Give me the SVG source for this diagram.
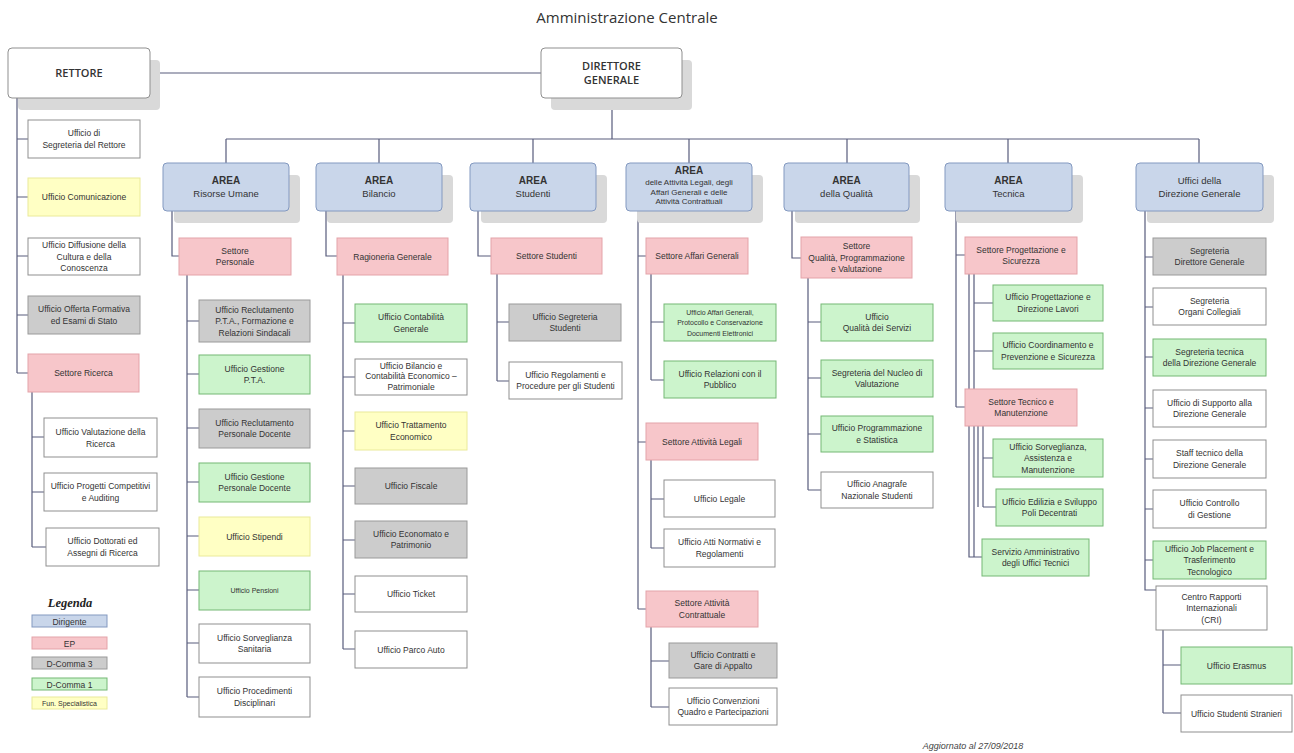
<svg xmlns="http://www.w3.org/2000/svg" width="1294" height="753" viewBox="0 0 1294 753">
<style>
.wh{fill:#fff;stroke:#8f8f8f;stroke-width:1}
.bl{fill:#c9d6ea;stroke:#8399c0;stroke-width:1}
.pk{fill:#f7c6ca;stroke:#e4a3a9;stroke-width:1}
.gy{fill:#cccccc;stroke:#9a9a9a;stroke-width:1}
.gr{fill:#ccf4cc;stroke:#74b874;stroke-width:1}
.yl{fill:#ffffc4;stroke:#eaea9a;stroke-width:1}
.sh{fill:#d9d9d9}
#connectors path{stroke:#585c7c;stroke-width:1.2;fill:none}
text{font-family:"Liberation Sans",Arial,sans-serif;font-size:8.5px;fill:#333;text-anchor:middle}
.hd{font-family:"Open Sans","Liberation Sans",sans-serif;font-size:11px;font-weight:600;fill:#333}
.ar{font-size:10px;font-weight:bold}
.a2{font-size:9.5px}
.sm{font-size:7px}
.s8{font-size:8px}
</style>
<rect width="1294" height="753" fill="#fff"/>
<text x="627" y="23" style="font-family:'Open Sans','Liberation Sans',sans-serif;font-size:15px;fill:#333">Amministrazione Centrale</text>

<g id="connectors">
<path d="M150,73H541M612,98V139M226,139H1199M226,139V163M379,139V163M533,139V163M689,139V163M847,139V163M1008,139V163M1199,139V163"/>
<path d="M17,98V373M17,139H28M17,197H28M17,256H28M17,315H28M17,373H28"/>
<path d="M32,392V547M32,437H44M32,492H44M32,547H46"/>
<path d="M172,211V256H179M187,275V697M187,321H199M187,374H199M187,428H199M187,482H199M187,536H199M187,590H199M187,643H199M187,697H199"/>
<path d="M326,211V256H337M343,275V649M343,323H355M343,377H355M343,431H355M343,486H355M343,540H355M343,594H355M343,649H355"/>
<path d="M478,211V256H491M497,274V381M497,322H509M497,381H509"/>
<path d="M638,211V609M638,256H646M638,442H646M638,609H646M651,274V380M651,322H664M651,380H664M651,460V548M651,499H664M651,548H664M651,627V707M651,661H669M651,707H669"/>
<path d="M792,211V258H801M808,278V490M808,322H821M808,378H821M808,434H821M808,490H821"/>
<path d="M956,211V407M956,255H965M956,407H965M969,274V557H982M974,274V557M974,303H993M974,351H993M978,426V507M983,426V507M983,458H993M983,507H996"/>
<path d="M1145,211V590H1156M1145,257H1153M1145,307H1153M1145,357H1153M1145,408H1153M1145,459H1153M1145,509H1153M1145,560H1153M1163,630V713M1163,665H1181M1163,713H1181"/>
</g>

<g id="rettore"><rect class="sh" x="18" y="60" width="142" height="50" rx="4"/><rect class="wh" x="8" y="48" width="142" height="50" rx="4"/><text class="hd" x="79" y="77">RETTORE</text></g>
<g id="direttore"><rect class="sh" x="551" y="60" width="141" height="50" rx="4"/><rect class="wh" x="541" y="48" width="141" height="50" rx="4"/><text class="hd" x="611.5" y="70">DIRETTORE</text><text class="hd" x="611.5" y="84">GENERALE</text></g>

<g id="r1"><rect class="wh" x="28" y="120" width="112" height="38"/><text x="84" y="136">Ufficio di</text><text x="84" y="148">Segreteria del Rettore</text></g>
<g id="r2"><rect class="yl" x="28" y="178" width="112" height="38"/><text x="84" y="200">Ufficio Comunicazione</text></g>
<g id="r3"><rect class="wh" x="28" y="238" width="112" height="37"/><text x="84" y="248">Ufficio Diffusione della</text><text x="84" y="259.5">Cultura e della</text><text x="84" y="271">Conoscenza</text></g>
<g id="r4"><rect class="gy" x="28" y="296" width="112" height="38"/><text x="84" y="312">Ufficio Offerta Formativa</text><text x="84" y="324">ed Esami di Stato</text></g>
<g id="r5"><rect class="pk" x="28" y="354" width="111" height="38"/><text x="83.5" y="376">Settore Ricerca</text></g>
<g id="r6"><rect class="wh" x="44" y="418" width="113" height="39"/><text x="100.5" y="435">Ufficio Valutazione della</text><text x="100.5" y="446.5">Ricerca</text></g>
<g id="r7"><rect class="wh" x="44" y="473" width="113" height="38"/><text x="100.5" y="489">Ufficio Progetti Competitivi</text><text x="100.5" y="501">e Auditing</text></g>
<g id="r8"><rect class="wh" x="46" y="528" width="113" height="38"/><text x="102.5" y="544">Ufficio Dottorati ed</text><text x="102.5" y="556">Assegni di Ricerca</text></g>

<g id="legenda">
<text x="70" y="607" style="font-family:'Liberation Serif',serif;font-size:12.5px;font-weight:bold;font-style:italic;fill:#222">Legenda</text>
<rect class="bl" x="32" y="615" width="75" height="12"/><text x="69.5" y="624.5">Dirigente</text>
<rect class="pk" x="32" y="637" width="75" height="12"/><text x="69.5" y="646.5">EP</text>
<rect class="gy" x="32" y="657" width="75" height="12"/><text x="69.5" y="666.5">D-Comma 3</text>
<rect class="gr" x="32" y="678" width="75" height="12"/><text x="69.5" y="687.5">D-Comma 1</text>
<rect class="yl" x="32" y="697" width="75" height="12"/><text class="sm" x="69.5" y="705.5">Fun. Specialistica</text>
</g>

<g id="area-ru"><rect class="sh" x="174" y="175" width="126" height="48" rx="4"/><rect class="bl" x="163" y="163" width="126" height="48" rx="4"/><text class="ar" x="226" y="184">AREA</text><text class="a2" x="226" y="197">Risorse Umane</text></g>
<g id="ru-s"><rect class="pk" x="179" y="238" width="112" height="37"/><text x="235" y="253.5">Settore</text><text x="235" y="265">Personale</text></g>
<g id="ru1"><rect class="gy" x="199" y="300" width="111" height="42"/><text x="254.5" y="312.5">Ufficio Reclutamento</text><text x="254.5" y="324">P.T.A., Formazione e</text><text x="254.5" y="335.5">Relazioni Sindacali</text></g>
<g id="ru2"><rect class="gr" x="199" y="355" width="111" height="39"/><text x="254.5" y="371.75">Ufficio Gestione</text><text x="254.5" y="383.25">P.T.A.</text></g>
<g id="ru3"><rect class="gy" x="199" y="409" width="111" height="39"/><text x="254.5" y="425.75">Ufficio Reclutamento</text><text x="254.5" y="437.25">Personale Docente</text></g>
<g id="ru4"><rect class="gr" x="199" y="463" width="111" height="39"/><text x="254.5" y="479.75">Ufficio Gestione</text><text x="254.5" y="491.25">Personale Docente</text></g>
<g id="ru5"><rect class="yl" x="199" y="517" width="111" height="39"/><text x="254.5" y="539.5">Ufficio Stipendi</text></g>
<g id="ru6"><rect class="gr" x="199" y="571" width="111" height="39"/><text class="sm" x="254.5" y="593">Ufficio Pensioni</text></g>
<g id="ru7"><rect class="wh" x="199" y="624" width="111" height="39"/><text x="254.5" y="640.75">Ufficio Sorveglianza</text><text x="254.5" y="652.25">Sanitaria</text></g>
<g id="ru8"><rect class="wh" x="199" y="677" width="111" height="40"/><text x="254.5" y="694.25">Ufficio Procedimenti</text><text x="254.5" y="705.75">Disciplinari</text></g>

<g id="area-bil"><rect class="sh" x="327" y="175" width="126" height="48" rx="4"/><rect class="bl" x="316" y="163" width="126" height="48" rx="4"/><text class="ar" x="379" y="184">AREA</text><text class="a2" x="379" y="197">Bilancio</text></g>
<g id="bi-s"><rect class="pk" x="337" y="238" width="111" height="37"/><text x="392.5" y="259.5">Ragioneria Generale</text></g>
<g id="bi1"><rect class="gr" x="355" y="304" width="112" height="38"/><text x="411" y="320.25">Ufficio Contabilità</text><text x="411" y="331.75">Generale</text></g>
<g id="bi2"><rect class="wh" x="355" y="359" width="112" height="36"/><text x="411" y="368.5">Ufficio Bilancio e</text><text x="411" y="379">Contabilità Economico –</text><text x="411" y="389.5">Patrimoniale</text></g>
<g id="bi3"><rect class="yl" x="355" y="412" width="112" height="38"/><text x="411" y="428.25">Ufficio Trattamento</text><text x="411" y="439.75">Economico</text></g>
<g id="bi4"><rect class="gy" x="355" y="468" width="112" height="36"/><text x="411" y="489">Ufficio Fiscale</text></g>
<g id="bi5"><rect class="gy" x="355" y="521" width="112" height="37"/><text x="411" y="536.75">Ufficio Economato e</text><text x="411" y="548.25">Patrimonio</text></g>
<g id="bi6"><rect class="wh" x="355" y="576" width="112" height="36"/><text x="411" y="597">Ufficio Ticket</text></g>
<g id="bi7"><rect class="wh" x="355" y="631" width="112" height="37"/><text x="411" y="652.5">Ufficio Parco Auto</text></g>

<g id="area-stu"><rect class="sh" x="481" y="175" width="126" height="48" rx="4"/><rect class="bl" x="470" y="163" width="126" height="48" rx="4"/><text class="ar" x="533" y="184">AREA</text><text class="a2" x="533" y="197">Studenti</text></g>
<g id="st-s"><rect class="pk" x="491" y="238" width="111" height="36"/><text x="546.5" y="259">Settore Studenti</text></g>
<g id="st1"><rect class="gy" x="509" y="304" width="112" height="37"/><text x="565" y="319.75">Ufficio Segreteria</text><text x="565" y="331.25">Studenti</text></g>
<g id="st2"><rect class="wh" x="509" y="362" width="113" height="37"/><text x="565.5" y="377.75">Ufficio Regolamenti e</text><text x="565.5" y="389.25">Procedure per gli Studenti</text></g>

<g id="area-leg"><rect class="sh" x="637" y="175" width="126" height="48" rx="4"/><rect class="bl" x="626" y="163" width="126" height="48" rx="4"/><text class="ar" x="689" y="174">AREA</text><text class="s8" x="689" y="185">delle Attività Legali, degli</text><text class="s8" x="689" y="194.5">Affari Generali e delle</text><text class="s8" x="689" y="204">Attività Contrattuali</text></g>
<g id="le-s1"><rect class="pk" x="646" y="238" width="102" height="36"/><text x="697" y="259">Settore Affari Generali</text></g>
<g id="le1"><rect class="gr" x="664" y="304" width="112" height="37"/><text class="sm" x="720" y="314.5">Ufficio Affari Generali,</text><text class="sm" x="720" y="325">Protocollo e Conservazione</text><text class="sm" x="720" y="335.5">Documenti Elettronici</text></g>
<g id="le2"><rect class="gr" x="664" y="361" width="112" height="37"/><text x="720" y="376.75">Ufficio Relazioni con il</text><text x="720" y="388.25">Pubblico</text></g>
<g id="le-s2"><rect class="pk" x="646" y="423" width="112" height="37"/><text x="702" y="444.5">Settore Attività Legali</text></g>
<g id="le3"><rect class="wh" x="664" y="480" width="111" height="37"/><text x="719.5" y="501.5">Ufficio Legale</text></g>
<g id="le4"><rect class="wh" x="664" y="529" width="111" height="38"/><text x="719.5" y="545.25">Ufficio Atti Normativi e</text><text x="719.5" y="556.75">Regolamenti</text></g>
<g id="le-s3"><rect class="pk" x="646" y="591" width="112" height="36"/><text x="702" y="606.25">Settore Attività</text><text x="702" y="617.75">Contrattuale</text></g>
<g id="le5"><rect class="gy" x="669" y="643" width="108" height="35"/><text x="723" y="657.75">Ufficio Contratti e</text><text x="723" y="669.25">Gare di Appalto</text></g>
<g id="le6"><rect class="wh" x="669" y="688" width="108" height="37"/><text x="723" y="703.75">Ufficio Convenzioni</text><text x="723" y="715.25">Quadro e Partecipazioni</text></g>

<g id="area-qua"><rect class="sh" x="795" y="175" width="125" height="48" rx="4"/><rect class="bl" x="784" y="163" width="125" height="48" rx="4"/><text class="ar" x="846.5" y="184">AREA</text><text class="a2" x="846.5" y="197">della Qualità</text></g>
<g id="qu-s"><rect class="pk" x="801" y="237" width="111" height="41"/><text x="856.5" y="249">Settore</text><text x="856.5" y="260.5">Qualità, Programmazione</text><text x="856.5" y="272">e Valutazione</text></g>
<g id="qu1"><rect class="gr" x="821" y="304" width="112" height="37"/><text x="877" y="319.75">Ufficio</text><text x="877" y="331.25">Qualità dei Servizi</text></g>
<g id="qu2"><rect class="gr" x="821" y="360" width="112" height="37"/><text x="877" y="375.75">Segreteria del Nucleo di</text><text x="877" y="387.25">Valutazione</text></g>
<g id="qu3"><rect class="gr" x="821" y="416" width="112" height="36"/><text x="877" y="431.25">Ufficio Programmazione</text><text x="877" y="442.75">e Statistica</text></g>
<g id="qu4"><rect class="wh" x="821" y="472" width="112" height="36"/><text x="877" y="487.25">Ufficio Anagrafe</text><text x="877" y="498.75">Nazionale Studenti</text></g>

<g id="area-tec"><rect class="sh" x="956" y="175" width="127" height="48" rx="4"/><rect class="bl" x="945" y="163" width="127" height="48" rx="4"/><text class="ar" x="1008.5" y="184">AREA</text><text class="a2" x="1008.5" y="197">Tecnica</text></g>
<g id="te-s1"><rect class="pk" x="965" y="237" width="112" height="37"/><text x="1021" y="252.75">Settore Progettazione e</text><text x="1021" y="264.25">Sicurezza</text></g>
<g id="te1"><rect class="gr" x="993" y="285" width="110" height="36"/><text x="1048" y="300.25">Ufficio Progettazione e</text><text x="1048" y="311.75">Direzione Lavori</text></g>
<g id="te2"><rect class="gr" x="993" y="333" width="110" height="36"/><text x="1048" y="348.25">Ufficio Coordinamento e</text><text x="1048" y="359.75">Prevenzione e Sicurezza</text></g>
<g id="te-s2"><rect class="pk" x="965" y="389" width="112" height="37"/><text x="1021" y="404.75">Settore Tecnico e</text><text x="1021" y="416.25">Manutenzione</text></g>
<g id="te3"><rect class="gr" x="993" y="439" width="110" height="38"/><text x="1048" y="449.5">Ufficio Sorveglianza,</text><text x="1048" y="461">Assistenza e</text><text x="1048" y="472.5">Manutenzione</text></g>
<g id="te4"><rect class="gr" x="996" y="489" width="107" height="37"/><text x="1049.5" y="504.75">Ufficio Edilizia e Sviluppo</text><text x="1049.5" y="516.25">Poli Decentrati</text></g>
<g id="te5"><rect class="gr" x="982" y="539" width="107" height="37"/><text x="1035.5" y="554.75">Servizio Amministrativo</text><text x="1035.5" y="566.25">degli Uffici Tecnici</text></g>

<g id="area-dir"><rect class="sh" x="1147" y="175" width="127" height="48" rx="4"/><rect class="bl" x="1136" y="163" width="127" height="48" rx="4"/><text class="a2" x="1199.5" y="184">Uffici della</text><text class="a2" x="1199.5" y="197">Direzione Generale</text></g>
<g id="d1"><rect class="gy" x="1153" y="238" width="113" height="37"/><text x="1209.5" y="253.75">Segreteria</text><text x="1209.5" y="265.25">Direttore Generale</text></g>
<g id="d2"><rect class="wh" x="1153" y="288" width="113" height="37"/><text x="1209.5" y="303.75">Segreteria</text><text x="1209.5" y="315.25">Organi Collegiali</text></g>
<g id="d3"><rect class="gr" x="1153" y="339" width="113" height="37"/><text x="1209.5" y="354.75">Segreteria tecnica</text><text x="1209.5" y="366.25">della Direzione Generale</text></g>
<g id="d4"><rect class="wh" x="1153" y="390" width="113" height="37"/><text x="1209.5" y="405.75">Ufficio di Supporto alla</text><text x="1209.5" y="417.25">Direzione Generale</text></g>
<g id="d5"><rect class="wh" x="1153" y="440" width="113" height="38"/><text x="1209.5" y="456.25">Staff tecnico della</text><text x="1209.5" y="467.75">Direzione Generale</text></g>
<g id="d6"><rect class="wh" x="1153" y="490" width="113" height="38"/><text x="1209.5" y="506.25">Ufficio Controllo</text><text x="1209.5" y="517.75">di Gestione</text></g>
<g id="d7"><rect class="gr" x="1153" y="541" width="113" height="38"/><text x="1209.5" y="551.5">Ufficio Job Placement e</text><text x="1209.5" y="563">Trasferimento</text><text x="1209.5" y="574.5">Tecnologico</text></g>
<g id="d8"><rect class="wh" x="1156" y="586" width="111" height="44"/><text x="1211.5" y="599.5">Centro Rapporti</text><text x="1211.5" y="611">Internazionali</text><text x="1211.5" y="622.5">(CRI)</text></g>
<g id="d9"><rect class="gr" x="1181" y="647" width="111" height="37"/><text x="1236.5" y="668.5">Ufficio Erasmus</text></g>
<g id="d10"><rect class="wh" x="1181" y="695" width="111" height="37"/><text x="1236.5" y="716.5">Ufficio Studenti Stranieri</text></g>

<text x="973" y="749" style="font-size:9px;font-style:italic;fill:#444">Aggiornato al 27/09/2018</text>
</svg>
